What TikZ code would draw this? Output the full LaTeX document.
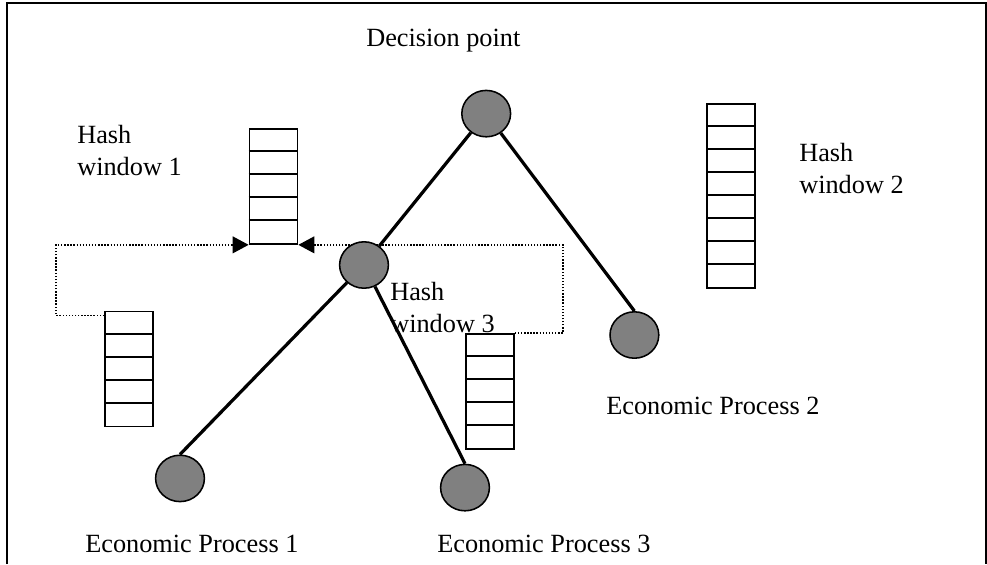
\documentclass[tikz,border=0pt]{standalone}
\usepackage{fontspec}
\setmainfont{Liberation Serif}
\usetikzlibrary{shapes.geometric,arrows.meta}
\tikzset{
  proc/.style={ellipse, draw, fill=gray, line width=1.1pt, inner sep=0pt,
               minimum width=1.22cm, minimum height=1.16cm},
  window/.style={rectangle, draw, line width=1.2pt, inner sep=0pt, minimum width=1.2cm},
  link/.style={line width=2.3pt},
  feed/.style={line width=1pt, dash pattern=on 1pt off 1.2pt,
               -{Triangle[length=0.4cm,width=0.42cm]}},
  txt/.style={inner sep=0pt, font=\fontsize{18.7}{22.4}\selectfont, align=left}
}
\begin{document}
\begin{tikzpicture}
\useasboundingbox (0,0) rectangle (24.675,-14.1);
\draw[line width=1.5pt] (0.175,-14.1) -- (0.175,-0.075) -- (24.64,-0.075) -- (24.64,-14.1);
% hash windows
\node[window, minimum height=2.875cm](win1) at (6.8375,-4.6625) {};
\node[window, minimum height=4.6cm](win2) at (18.275,-4.9) {};
\node[window, minimum height=2.875cm](stackL) at (3.225,-9.225) {};
\node[window, minimum height=2.875cm](stackR) at (12.25,-9.7875) {};
\foreach \w/\n in {win1/4, win2/7, stackL/4, stackR/4}
  \foreach \k in {1,...,\n}
    \draw[line width=1.2pt] ([yshift={-\k*0.575cm}]\w.north west) -- ([yshift={-\k*0.575cm}]\w.north east);
\draw[feed] ([yshift=-0.125cm]stackL.north west) -- ++(-1.2,0) |- (win1.south west);
\draw[feed] (stackR.north east) -- ++(1.2,0) |- (win1.south east);
% processes
\node[proc](dp) at (12.155,-2.84) {};
\node[proc](mid) at (9.1,-6.625) {};
\node[proc](ep1) at (4.5,-11.96) {};
\node[proc](ep3) at (11.625,-12.19) {};
\node[proc](ep2) at (15.86,-8.375) {};
\draw[link] (dp) -- (mid);
\draw[link] (dp) -- (ep2.north);
\draw[link] (mid) -- (ep1.north);
\draw[link] (mid) -- (ep3.north);
% labels
\node[txt, anchor=base west](dptext) at (9.15,-1.15) {Decision point};
\node[txt, anchor=north west](hw1text) at (1.925,-3.125) {Hash\\window 1};
\node[txt, anchor=north west](hw2text) at (19.975,-3.575) {Hash\\window 2};
\node[txt, anchor=north west](hw3text) at (9.75,-7.05) {Hash\\window 3};
\node[txt, anchor=base west](ep1text) at (2.125,-13.8) {Economic Process 1};
\node[txt, anchor=base west](ep2text) at (15.15,-10.35) {Economic Process 2};
\node[txt, anchor=base west](ep3text) at (10.925,-13.8) {Economic Process 3};
\end{tikzpicture}
\end{document}
